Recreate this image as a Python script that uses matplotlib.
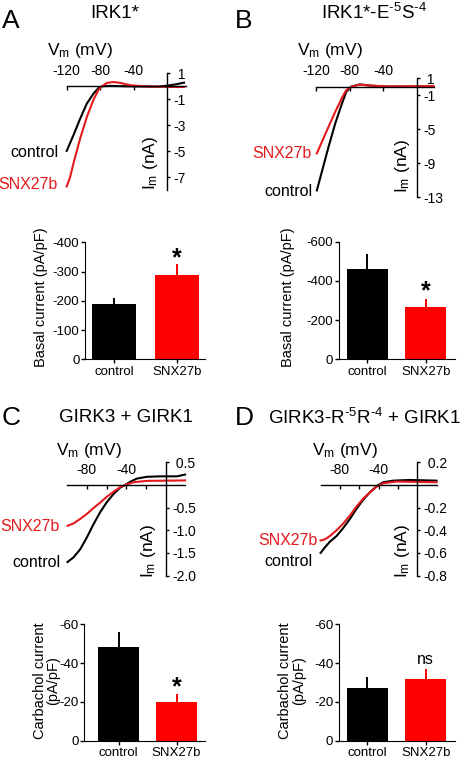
import matplotlib
matplotlib.use("Agg")
import matplotlib.pyplot as plt

plt.rcParams["font.family"] = ["Liberation Sans", "DejaVu Sans"]
plt.rcParams["mathtext.fontset"] = "custom"
plt.rcParams["mathtext.rm"] = "Liberation Sans"
plt.rcParams["mathtext.it"] = "Liberation Sans:italic"
plt.rcParams["mathtext.bf"] = "Liberation Sans:bold"
plt.rcParams["axes.unicode_minus"] = False

RED = "#e3191c"
BAR_RED = "#ff0000"

# --- I-V traces (mV, nA) ---
a_v_ctrl = [-120, -112, -104, -96, -88, -82, -78, -68, -48, -12, 0, 10, 20]
a_i_ctrl = [-4.97, -3.77, -2.5, -1.33, -0.56, -0.13, 0.0, 0.03, 0.0, -0.03, 0.05, 0.15, 0.28]
a_v_snx = [-120, -116, -112, -104, -96, -88, -82, -78, -72, -64, -56, -44, -28, 0, 20]
a_i_snx = [-7.7, -7.0, -5.95, -4.03, -2.36, -1.03, -0.26, 0.0, 0.26, 0.33, 0.26, 0.08, 0.0, -0.05, -0.05]

b_v_ctrl = [-119, -113, -105, -97, -89, -84, -78, -68, -54, -34, 20]
b_i_ctrl = [-12.2, -10.0, -7.06, -4.3, -1.96, -0.6, 0.0, 0.27, 0.12, 0.0, 0.0]
b_v_snx = [-119, -113, -105, -97, -89, -84, -78, -68, -54, -34, 20]
b_i_snx = [-7.84, -6.5, -4.7, -2.94, -1.3, -0.4, 0.0, 0.24, 0.12, 0.04, 0.08]

c_v_ctrl = [-99.5, -93.5, -86.7, -80, -73.3, -66.5, -59.8, -53, -46.3, -41.3, -36.2, -29.5, -19.4, -6, 11, 19.3]
c_i_ctrl = [-1.7, -1.6, -1.42, -1.16, -0.87, -0.6, -0.38, -0.2, -0.06, 0.0, 0.07, 0.14, 0.18, 0.19, 0.19, 0.23]
c_v_snx = [-99.5, -93.5, -86.7, -80, -73.3, -66.5, -59.8, -53, -46.3, -41.3, -32.9, -19.4, 19.3]
c_i_snx = [-0.9, -0.85, -0.75, -0.64, -0.51, -0.39, -0.26, -0.15, -0.05, 0.0, 0.06, 0.09, 0.1]

d_v_ctrl = [-100, -95.5, -90.3, -83.4, -76.6, -69.7, -62.8, -55.9, -49, -42, -35.2, -24.8, -7.6, 20]
d_i_ctrl = [-0.6, -0.55, -0.5, -0.45, -0.38, -0.3, -0.21, -0.13, -0.065, -0.01, 0.024, 0.038, 0.044, 0.038]
d_v_snx = [-100, -95.5, -90.3, -83.4, -76.6, -69.7, -62.8, -55.9, -49, -42, -35.2, -21.4, 20]
d_i_snx = [-0.49, -0.48, -0.45, -0.4, -0.34, -0.27, -0.19, -0.12, -0.065, -0.015, 0.015, 0.03, 0.024]

# --- bar data (pA/pF), mean and SEM ---
groups = ["control", "SNX27b"]
a_mean = [-190, -287]
a_sem = [18, 38]
b_mean = [-460, -268]
b_sem = [77, 40]
c_mean = [-48.5, -19.9]
c_sem = [7.4, 4.0]
d_mean = [-27.3, -31.8]
d_sem = [5.4, 5.0]

W, H = 465, 758
fig = plt.figure(figsize=(W / 100, H / 100), dpi=100)


def add_px_axes(x0, y0, x1, y1):
    return fig.add_axes([x0 / W, 1 - y1 / H, (x1 - x0) / W, (y1 - y0) / H])


def ftext(x, y, s, **kw):
    fig.text(x / W, 1 - y / H, s, **kw)


def iv_panel(box, xlim, ylim, xmajor, xminor, yticks, ylabels, vc, ic, vs, is_):
    ax = add_px_axes(*box)
    ax.plot(vc, ic, color="black", lw=1.5, clip_on=False)
    ax.plot(vs, is_, color=RED, lw=1.5, clip_on=False)
    ax.set_xlim(xlim)
    ax.set_ylim(ylim)
    ax.spines["left"].set_visible(False)
    ax.spines["bottom"].set_visible(False)
    ax.spines["top"].set_position(("data", 0))
    ax.spines["right"].set_position(("data", 0))
    for s in ["top", "right"]:
        ax.spines[s].set_linewidth(1.0)
    ax.xaxis.tick_top()
    ax.yaxis.tick_right()
    ax.set_xticks(xmajor, [str(t) for t in xmajor])
    ax.set_xticks(xminor, minor=True)
    ax.tick_params(axis="x", which="both", direction="in", length=3, width=1,
                   pad=6, labelsize=10)
    ax.set_yticks(yticks, ylabels)
    ax.tick_params(axis="y", direction="out", length=2.5, width=1, pad=2,
                   labelsize=10)
    ax.patch.set_visible(False)
    return ax


def bar_panel(box, xlim, ytop, yticks, means, sems, ylabel, lx, ly):
    ax = add_px_axes(*box)
    pos = [0, 1]
    colors = ["black", BAR_RED]
    ax.bar(pos, means, width=0.7, color=colors, zorder=2)
    for p, m, e, c in zip(pos, means, sems, colors):
        ax.errorbar([p], [m], yerr=[[e], [0]], color=c, lw=1.4, capsize=0,
                    zorder=1)
    ax.set_xlim(xlim)
    ax.set_ylim(0, ytop)
    ax.spines["top"].set_visible(False)
    ax.spines["right"].set_visible(False)
    ax.set_xticks(pos, groups)
    ax.set_yticks(yticks, [str(t) for t in yticks])
    ax.tick_params(axis="both", length=3, width=1)
    ax.tick_params(axis="x", pad=1.5, labelsize=9.5)
    ax.tick_params(axis="y", pad=1, labelsize=9.5)
    ftext(lx, ly, ylabel, rotation=90, ha="center", va="center", fontsize=10.5,
          linespacing=0.95)
    return ax


# A
iv_panel((66.7, 73.3, 185.7, 190.3), (-120, 22), (-8, 1), [-120, -80, -40], [],
         [1, -1, -3, -5, -7], [" 1", "-1", "-3", "-5", "-7"],
         a_v_ctrl, a_i_ctrl, a_v_snx, a_i_snx)
# B
iv_panel((316, 78.2, 433.5, 197.2), (-120, 20), (-13, 1), [-120, -80, -40], [],
         [1, -1, -5, -9, -13], [" 1", "-1", "-5", "-9", "-13"],
         b_v_ctrl, b_i_ctrl, b_v_snx, b_i_snx)
# C
iv_panel((67, 462.3, 184.8, 575.6), (-100, 19), (-2, 0.5), [-80, -40], [-60, -20],
         [0.5, -0.5, -1.0, -1.5, -2.0], [" 0.5", "-0.5", "-1.0", "-1.5", "-2.0"],
         c_v_ctrl, c_i_ctrl, c_v_snx, c_i_snx)
# D
iv_panel((320.6, 462.3, 436.6, 575.6), (-100, 20), (-0.8, 0.2), [-80, -40], [-60, -20],
         [0.2, -0.2, -0.4, -0.6, -0.8], [" 0.2", "-0.2", "-0.4", "-0.6", "-0.8"],
         d_v_ctrl, d_i_ctrl, d_v_snx, d_i_snx)

vm = "V$_\\mathrm{m}$ (mV)"
im = "I$_\\mathrm{m}$ (nA)"
for x, y in [(80, 51), (329.5, 51), (89, 451), (345, 451)]:
    ftext(x, y, vm, ha="center", va="center", fontsize=12.5)
for x, y in [(150, 163), (402, 166), (148.5, 551), (402, 551)]:
    ftext(x, y, im, ha="center", va="center", fontsize=12.5, rotation=90)

ftext(58, 152.3, "control", ha="right", va="center", fontsize=11.5)
ftext(58, 184.3, "SNX27b", ha="right", va="center", fontsize=11.5, color=RED)
ftext(312, 153.3, "SNX27b", ha="right", va="center", fontsize=11.5, color=RED)
ftext(312, 191.7, "control", ha="right", va="center", fontsize=11.5)
ftext(60, 526.7, "SNX27b", ha="right", va="center", fontsize=11.5, color=RED)
ftext(60, 562.7, "control", ha="right", va="center", fontsize=11.5)
ftext(318, 540.7, "SNX27b", ha="right", va="center", fontsize=11.5, color=RED)
ftext(312, 561.7, "control", ha="right", va="center", fontsize=11.5)

for x, y, s in [(1.5, 21.5, "A"), (234.5, 21.5, "B"), (1.5, 418, "C"), (234.5, 418, "D")]:
    ftext(x, y, s, ha="left", va="center", fontsize=19)
ftext(115, 13.3, "IRK1*", ha="center", va="center", fontsize=13.5)
ftext(373.7, 13.3, "IRK1*-E$^{\\text{-5}}$S$^{\\text{-4}}$", ha="center",
      va="center", fontsize=13.5)
ftext(125.8, 418, "GIRK3 + GIRK1", ha="center", va="center", fontsize=13.5)
ftext(364.5, 418, "GIRK3-R$^{\\text{-5}}$R$^{\\text{-4}}$ + GIRK1", ha="center",
      va="center", fontsize=13.5)

# bars
ax = bar_panel((85, 242.3, 205, 359.3), (-0.46, 1.44), -400,
               [0, -100, -200, -300, -400], a_mean, a_sem,
               "Basal current (pA/pF)", 40.8, 297.5)
ax.text(1, -345, "*", ha="center", va="center", fontsize=18, fontweight="bold")
ax = bar_panel((338.7, 241.7, 455, 359.3), (-0.49, 1.5), -600,
               [0, -200, -400, -600], b_mean, b_sem,
               "Basal current (pA/pF)", 287.8, 297.5)
ax.text(1, -345, "*", ha="center", va="center", fontsize=18, fontweight="bold")
ax = bar_panel((84.3, 624.3, 205, 740.7), (-0.59, 1.49), -60,
               [0, -20, -40, -60], c_mean, c_sem,
               "Carbachol current\n(pA/pF)", 46.7, 680.8)
ax.text(1, -27.5, "*", ha="center", va="center", fontsize=18, fontweight="bold")
ax = bar_panel((338.7, 624.3, 455, 740.7), (-0.49, 1.5), -60,
               [0, -20, -40, -60], d_mean, d_sem,
               "Carbachol current\n(pA/pF)", 292, 680.8)
ax.text(1, -41.6, "ns", ha="center", va="center", fontsize=11.5)

fig.savefig("out.png", dpi=100)
